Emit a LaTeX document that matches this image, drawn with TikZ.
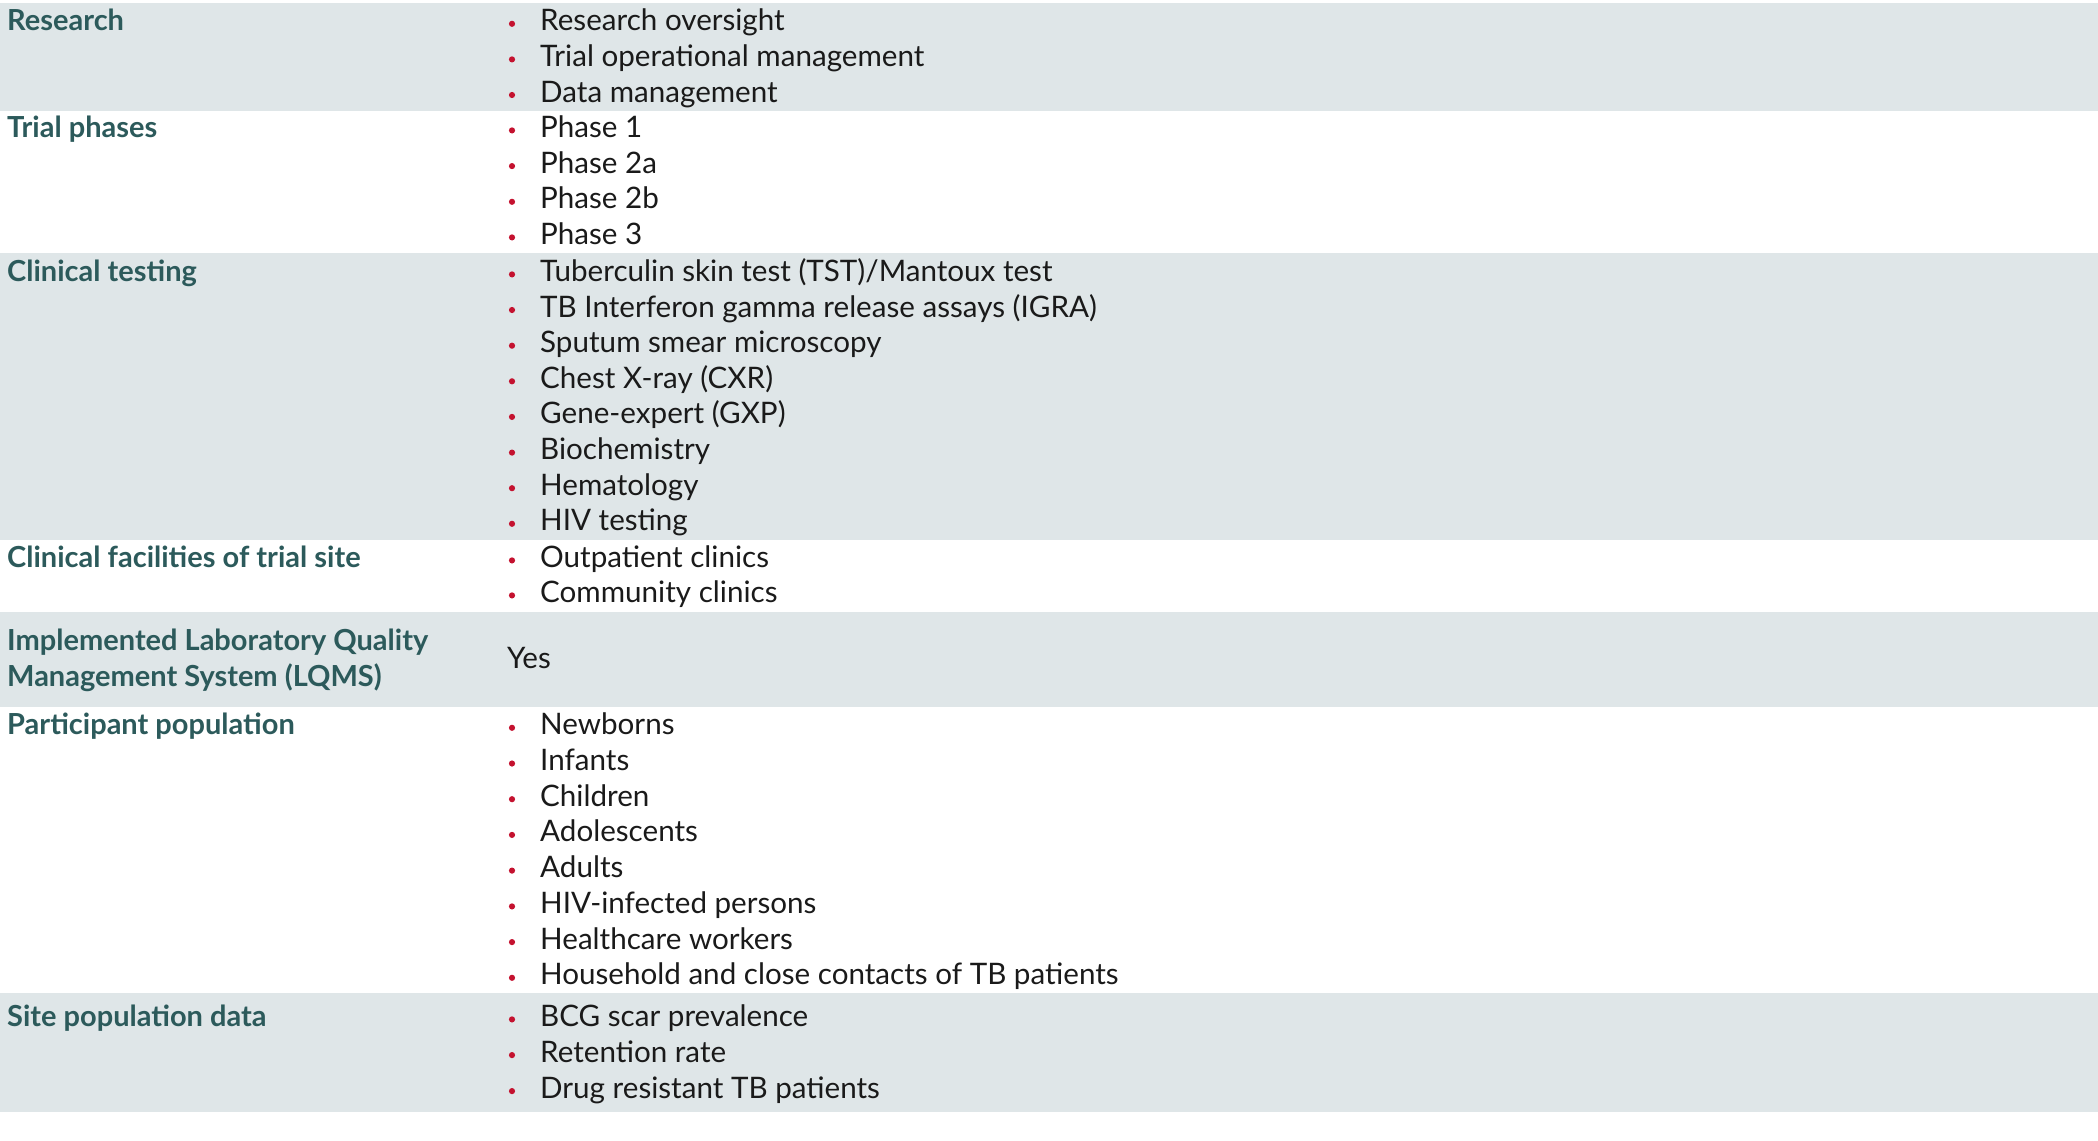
\documentclass[tikz,border=0pt]{standalone}
\usepackage{fontspec}
\setmainfont{Lato}
\definecolor{bandc}{HTML}{DFE6E8}
\definecolor{labelc}{HTML}{2C5A5B}
\definecolor{bulletc}{HTML}{C4122F}
\definecolor{textc}{HTML}{1A1A1A}
\tikzset{
  band/.style={fill=bandc},
  item/.style={anchor=base west, inner sep=0pt, text=textc, font=\fontsize{29.6}{34}\selectfont},
  lbl/.style={anchor=base west, inner sep=0pt, text=labelc, font=\fontsize{29}{34}\selectfont\bfseries},
  bul/.style={circle, fill=bulletc, inner sep=0pt, minimum size=6.2pt},
}
\newcommand{\itm}[3]{%
  \node[item] (#1) at (540,#2) {#3};
  \node[bul] (#1b) at (512,#2-7) {};
}
\begin{document}
\begin{tikzpicture}[x=1pt,y=-1pt]
\useasboundingbox (0,0) rectangle (2098,1140);
% bands
\fill[band] (0,3) rectangle (2098,110.7);
\fill[band] (0,253) rectangle (2098,540);
\fill[band] (0,611.7) rectangle (2098,706.7);
\fill[band] (0,993.3) rectangle (2098,1111.7);
\begin{scope}[yshift=-1.5pt]
% Research
\node[lbl] (l1) at (7,29.3) {Research};
\itm{r1}{29.3}{Research oversight}
\itm{r2}{64.9}{Trial operational management}
\itm{r3}{100.5}{Data management}
% Trial phases
\node[lbl] (l2) at (7,135.9) {Trial phases};
\itm{p1}{135.9}{Phase 1}
\itm{p2}{171.6}{Phase 2a}
\itm{p3}{207.3}{Phase 2b}
\itm{p4}{242.9}{Phase 3}
% Clinical testing
\node[lbl] (l3) at (7,279.9) {Clinical testing};
\itm{c1}{279.9}{Tuberculin skin test (TST)/Mantoux test}
\itm{c2}{315.5}{TB Interferon gamma release assays (IGRA)}
\itm{c3}{351.2}{Sputum smear microscopy}
\itm{c4}{386.8}{Chest X-ray (CXR)}
\itm{c5}{422.4}{Gene-expert (GXP)}
\itm{c6}{458.1}{Biochemistry}
\itm{c7}{493.7}{Hematology}
\itm{c8}{529.3}{HIV testing}
% Clinical facilities
\node[lbl] (l4) at (7,565.9) {Clinical facilities of trial site};
\itm{f1}{565.9}{Outpatient clinics}
\itm{f2}{600.9}{Community clinics}
% LQMS
\node[lbl] (l5a) at (7,649) {Implemented Laboratory Quality};
\node[lbl] (l5b) at (7,685) {Management System (LQMS)};
\node[item] (yes) at (507,667) {Yes};
% Participant population
\node[lbl] (l6) at (7,733.3) {Participant population};
\itm{q1}{733.3}{Newborns}
\itm{q2}{769.0}{Infants}
\itm{q3}{804.7}{Children}
\itm{q4}{840.4}{Adolescents}
\itm{q5}{876.1}{Adults}
\itm{q6}{911.9}{HIV-infected persons}
\itm{q7}{947.6}{Healthcare workers}
\itm{q8}{983.3}{Household and close contacts of TB patients}
% Site population data
\node[lbl] (l7) at (7,1024.9) {Site population data};
\itm{s1}{1024.9}{BCG scar prevalence}
\itm{s2}{1060.6}{Retention rate}
\itm{s3}{1096.6}{Drug resistant TB patients}
\end{scope}
\end{tikzpicture}
\end{document}
